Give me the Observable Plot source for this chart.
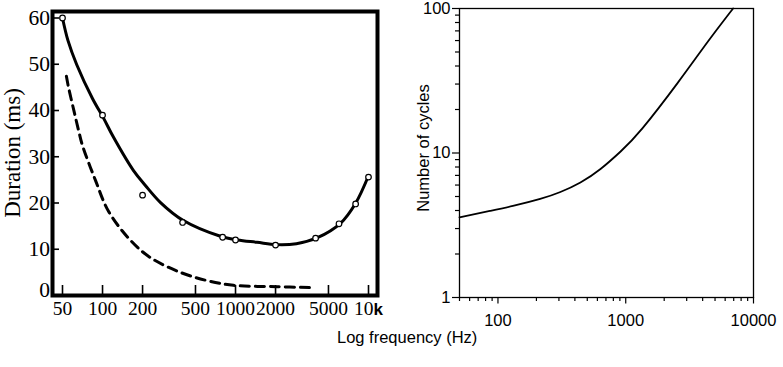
<!DOCTYPE html>
<html><head><meta charset="utf-8">
<script src="https://cdn.jsdelivr.net/npm/d3@7"></script>
<script src="https://cdn.jsdelivr.net/npm/@observablehq/plot@0.6"></script>
<style>
body{margin:0;background:#fff;}
#wrap{position:relative;width:783px;height:367px;overflow:hidden;background:#fff;}
.lab{position:absolute;white-space:nowrap;color:#000;line-height:1;}
#ylabL{left:12px;top:153px;transform:translate(-50%,-50%) rotate(-90deg);font-family:'Liberation Serif','Times New Roman',serif;font-size:23px;}
#ylabR{left:423px;top:148px;transform:translate(-50%,-50%) rotate(-90deg);font-family:'Liberation Sans',Arial,sans-serif;font-size:16.5px;}
#xlab{left:337px;top:329px;font-family:'Liberation Sans',Arial,sans-serif;font-size:16.5px;}
</style>
</head><body>
<div id="wrap">
 <div id="left" style="position:absolute;left:0;top:0"></div>
 <div id="right" style="position:absolute;left:390px;top:0"></div>
 <div class="lab" id="ylabL">Duration (ms)</div>
 <div class="lab" id="ylabR">Number of cycles</div>
 <div class="lab" id="xlab">Log frequency (Hz)</div>
</div>
<script>
// ---- Left panel: duration vs log frequency ----
const markerFreq = [50, 100, 200, 400, 800, 1000, 2000, 4000, 6000, 8000, 10000];
const markerDur  = [60, 39, 21.7, 15.8, 12.6, 12.0, 10.9, 12.4, 15.5, 19.8, 25.6];

const solidFreq = [50, 55, 64, 84, 102, 121, 171, 210, 273, 406, 770, 1035, 1450, 2030, 2870, 4130, 6150, 7980, 10000];
const solidDur  = [60, 55.1, 49.9, 42.6, 38.3, 34.2, 27.0, 23.8, 20.1, 16.2, 12.8, 12.0, 11.5, 11.0, 11.2, 12.5, 15.6, 19.9, 25.9];

const dashFreq = [53.5, 55.6, 61.1, 66.3, 70.7, 88.5, 110.9, 162.6, 229, 385, 615, 965, 2050, 3650];
const dashDur  = [47.4, 44.9, 39.8, 35.5, 32.4, 24.9, 18.2, 11.9, 8.2, 5.0, 3.2, 2.2, 1.9, 1.7];

const leftXTicks  = [50, 100, 200, 500, 1000, 2000, 5000, 10000];
const leftXLabels = ["50", "100", "200", "500", "1000", "2000", "5000", "10k"];
const leftYTicks  = [0, 10, 20, 30, 40, 50, 60];

// ---- Right panel: number of cycles vs frequency ----
const cycFreq = [50, 86.5, 131, 214, 308, 442, 635, 912, 1350, 2560, 4400, 6920];
const cycles  = [3.59, 3.97, 4.30, 4.81, 5.37, 6.25, 7.75, 10.24, 14.8, 30.7, 59.1, 100];

const rightXMajor = [100, 1000, 10000];
const rightXMinor = [50, 60, 70, 80, 90, 200, 300, 400, 500, 600, 700, 800, 900, 2000, 3000, 4000, 5000, 6000, 7000, 8000, 9000];
const rightYMajor = [1, 10, 100];
const rightYMinor = [2, 3, 4, 5, 6, 7, 8, 9, 20, 30, 40, 50, 60, 70, 80, 90];

const serif = "'Liberation Serif','Times New Roman',serif";
const sans = "'Liberation Sans',Arial,sans-serif";

const LW = 390, LML = 52, LMR = 13, LMT = 11, LMB = 72, LH = 367;
const LFW = LW - LML - LMR, LFH = LH - LMT - LMB;

const leftPlot = Plot.plot({
  width: LW, height: LH,
  marginLeft: LML, marginRight: LMR, marginTop: LMT, marginBottom: LMB,
  style: {fontFamily: serif, color: "#000", background: "transparent", overflow: "visible"},
  x: {type: "log", domain: [50, 10000], range: [62, 368], axis: null},
  y: {domain: [0, 60], range: [295, 17.5], axis: null},
  marks: [
    // inward ticks
    Plot.tickX(leftXTicks, {x: d => d, insetTop: LFH - 10, stroke: "#000", strokeWidth: 1.6}),
    Plot.tickY(leftYTicks.filter(d => d > 0), {y: d => d, insetRight: LFW - 7, stroke: "#000", strokeWidth: 1.6}),
    // tick labels
    Plot.text(leftXTicks, {x: d => d, text: (d, i) => leftXLabels[i], frameAnchor: "bottom", lineAnchor: "top", dy: 6, fontSize: 19.5, fill: "#000"}),
    Plot.text(leftYTicks.filter(d => d > 0), {y: d => d, text: d => String(d), frameAnchor: "left", textAnchor: "end", dx: -2.5, fontSize: 21.5, fill: "#000"}),
    Plot.text(leftYTicks.filter(d => d === 0), {y: d => d, text: d => String(d), frameAnchor: "left", textAnchor: "end", dx: -2.5, dy: -5, fontSize: 21.5, fill: "#000"}),
    Plot.line(dashFreq, {x: dashFreq, y: dashDur, stroke: "#000", strokeWidth: 3, strokeDasharray: "9,6", curve: "catmull-rom"}),
    Plot.line(solidFreq, {x: solidFreq, y: solidDur, stroke: "#000", strokeWidth: 3, curve: "catmull-rom"}),
    Plot.dot(markerFreq, {x: markerFreq, y: markerDur, r: 2.8, fill: "white", stroke: "#000", strokeWidth: 1.2}),
    Plot.frame({strokeWidth: 4, stroke: "#000"})
  ]
});
document.getElementById("left").appendChild(leftPlot);

// bold sans "k" in the 10k label, as in the original
d3.select(leftPlot).selectAll("text").each(function() {
  if (this.textContent === "10k") {
    this.textContent = "10";
    d3.select(this).append("tspan").attr("font-family", sans).attr("font-weight", "bold").attr("font-size", "17").text("k");
  }
});

const RW = 393, RML = 69, RMR = 30, RMT = 8, RMB = 70, RH = 367;
const RFW = RW - RML - RMR, RFH = RH - RMT - RMB;

const rightPlot = Plot.plot({
  width: RW, height: RH,
  marginLeft: RML, marginRight: RMR, marginTop: RMT, marginBottom: RMB,
  style: {fontFamily: sans, color: "#000", background: "transparent", overflow: "visible"},
  x: {type: "log", domain: [50, 10000], axis: null},
  y: {type: "log", domain: [1, 100], axis: null},
  marks: [
    // outward ticks
    Plot.tickX(rightXMinor, {x: d => d, insetTop: RFH, insetBottom: -4, stroke: "#000", strokeWidth: 1.2}),
    Plot.tickX(rightXMajor, {x: d => d, insetTop: RFH, insetBottom: -6.5, stroke: "#000", strokeWidth: 1.2}),
    Plot.tickY(rightYMinor, {y: d => d, insetLeft: -4, insetRight: RFW, stroke: "#000", strokeWidth: 1.2}),
    Plot.tickY(rightYMajor, {y: d => d, insetLeft: -7, insetRight: RFW, stroke: "#000", strokeWidth: 1.2}),
    Plot.text(rightXMajor, {x: d => d, text: d => String(d), frameAnchor: "bottom", lineAnchor: "top", dy: 16.5, fontSize: 16.5, fill: "#000"}),
    Plot.text(rightYMajor, {y: d => d, text: d => String(d), frameAnchor: "left", textAnchor: "end", dx: -9, fontSize: 16.5, fill: "#000"}),
    Plot.line(cycFreq, {x: cycFreq, y: cycles, stroke: "#000", strokeWidth: 1.8, curve: "natural"}),
    Plot.frame({strokeWidth: 1.3, stroke: "#000"})
  ]
});
document.getElementById("right").appendChild(rightPlot);
</script>
</body></html>
